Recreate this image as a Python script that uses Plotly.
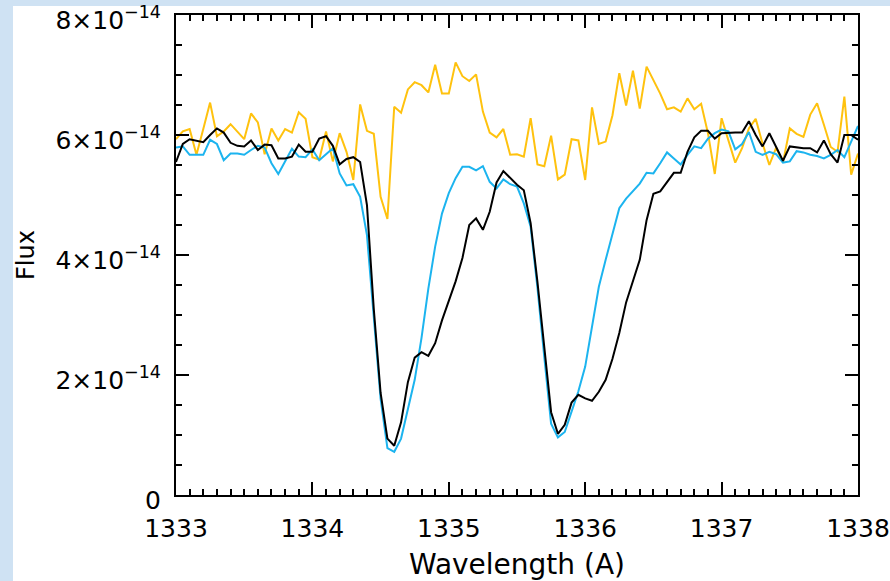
import numpy as np
import plotly.graph_objects as go

# wavelength grid (Angstrom), 0.05 A sampling
wavelength = np.round(1333.0 + 0.05 * np.arange(101), 2)

# flux values in units of 1e-14
flux_black = [5.55, 5.85, 5.93, 5.91, 5.88, 6.00, 6.11, 6.04, 5.87, 5.82,
              5.81, 5.91, 5.75, 5.84, 5.83, 5.61, 5.61, 5.64, 5.84, 5.72,
              5.72, 5.94, 5.98, 5.82, 5.51, 5.60, 5.63, 5.55, 4.83, 3.10,
              1.70, 0.94, 0.82, 1.21, 1.88, 2.29, 2.38, 2.32, 2.53, 2.91,
              3.22, 3.56, 3.95, 4.50, 4.61, 4.42, 4.72, 5.21, 5.40, 5.28,
              5.17, 5.08, 4.53, 3.55, 2.45, 1.38, 1.02, 1.17, 1.54, 1.67,
              1.61, 1.57, 1.72, 1.92, 2.27, 2.70, 3.21, 3.58, 3.92, 4.58,
              5.02, 5.06, 5.21, 5.37, 5.37, 5.72, 5.96, 6.07, 6.07, 5.94,
              6.03, 6.04, 6.04, 6.04, 6.23, 6.00, 5.81, 6.03, 5.81, 5.57,
              5.81, 5.79, 5.78, 5.78, 5.71, 5.91, 5.68, 5.54, 6.00, 6.00,
              5.92]

flux_cyan = [5.79, 5.81, 5.67, 5.67, 5.67, 5.92, 5.85, 5.58, 5.69, 5.69,
             5.67, 5.75, 5.82, 5.79, 5.53, 5.35, 5.56, 5.77, 5.64, 5.63,
             5.76, 5.58, 5.68, 5.78, 5.36, 5.16, 5.18, 4.97, 4.33, 2.95,
             1.60, 0.78, 0.72, 0.94, 1.42, 1.92, 2.62, 3.44, 4.14, 4.69,
             5.03, 5.28, 5.47, 5.47, 5.41, 5.48, 5.22, 5.11, 5.26, 5.18,
             5.14, 4.86, 4.47, 3.45, 2.30, 1.19, 0.96, 1.05, 1.39, 1.73,
             2.14, 2.80, 3.47, 3.92, 4.36, 4.78, 4.94, 5.07, 5.19, 5.37,
             5.36, 5.53, 5.71, 5.61, 5.51, 5.67, 5.81, 5.78, 5.94, 6.03,
             6.09, 6.06, 5.76, 5.85, 6.05, 5.72, 5.67, 5.72, 5.68, 5.54,
             5.56, 5.73, 5.71, 5.67, 5.65, 5.61, 5.67, 5.75, 5.63, 5.89,
             6.15]

flux_gold = [5.93, 6.06, 6.10, 5.67, 6.10, 6.54, 5.98, 6.06, 6.18, 6.06,
             5.93, 6.36, 6.21, 5.68, 6.11, 5.91, 6.10, 6.04, 6.38, 6.27,
             5.63, 5.59, 6.06, 5.56, 6.03, 5.72, 5.25, 6.51, 6.07, 6.02,
             4.97, 4.60, 6.47, 6.37, 6.76, 6.88, 6.83, 6.71, 7.17, 6.69,
             6.69, 7.21, 6.98, 6.90, 7.01, 6.39, 6.04, 5.96, 6.10, 5.67,
             5.68, 5.64, 6.28, 5.51, 5.48, 5.99, 5.26, 5.34, 5.93, 5.91,
             5.25, 6.46, 5.85, 5.89, 6.33, 7.03, 6.49, 7.07, 6.44, 7.14,
             6.92, 6.69, 6.43, 6.46, 6.39, 6.61, 6.43, 6.52, 6.03, 5.35,
             6.28, 5.89, 5.54, 5.78, 6.11, 6.27, 5.86, 5.50, 5.79, 5.54,
             6.11, 6.02, 5.97, 6.34, 6.53, 6.17, 5.80, 5.72, 6.64, 5.34,
             5.69]

scale = 1e-14
x_ticks = [1333, 1334, 1335, 1336, 1337, 1338]
y_tickvals = [0, 2e-14, 4e-14, 6e-14, 8e-14]
y_ticktext = ["0", "2×10<sup>−14</sup>", "4×10<sup>−14</sup>",
              "6×10<sup>−14</sup>", "8×10<sup>−14</sup>"]

fig = go.Figure()
for vals, col in [(flux_gold, "#ffc20e"), (flux_cyan, "#1cb4ef"), (flux_black, "#000000")]:
    fig.add_trace(go.Scatter(x=wavelength, y=np.array(vals) * scale, mode="lines",
                             line=dict(color=col, width=2), showlegend=False))

font_family = "DejaVu Sans"
fig.update_layout(
    width=890, height=581,
    margin=dict(l=176, r=32, t=15, b=86, autoexpand=False),
    paper_bgcolor="#cfe2f3",
    plot_bgcolor="white",
    font=dict(family=font_family, color="black"),
    shapes=[dict(type="rect", xref="paper", yref="paper",
                 x0=-0.239, x1=1.1, y0=-0.2, y1=1.019,
                 fillcolor="white", line=dict(width=0), layer="below")],
)
fig.update_xaxes(
    range=[1333, 1338], tickvals=x_ticks, ticktext=[str(t) for t in x_ticks],
    automargin=False,
    showgrid=False, zeroline=False, showline=True, linecolor="black", linewidth=2,
    mirror="ticks", ticks="inside", ticklen=13, tickwidth=1.5, tickcolor="black",
    minor=dict(dtick=0.1, ticks="inside", ticklen=6, tickwidth=1.5, tickcolor="black"),
    tickfont=dict(size=25, family=font_family),
    ticklabelstandoff=10,
    ticklabeloverflow="allow",
    title=dict(text="Wavelength (A)", font=dict(size=28, family=font_family), standoff=12),
)
fig.update_yaxes(
    range=[0, 8e-14], tickvals=y_tickvals, ticktext=y_ticktext,
    automargin=False,
    showgrid=False, zeroline=False, showline=True, linecolor="black", linewidth=2,
    mirror="ticks", ticks="inside", ticklen=13, tickwidth=1.5, tickcolor="black",
    minor=dict(dtick=0.5e-14, ticks="inside", ticklen=6, tickwidth=1.5, tickcolor="black"),
    tickfont=dict(size=25, family=font_family),
    ticklabelstandoff=8,
    ticklabelshift=5,
    ticklabeloverflow="allow",
    title=dict(text="Flux", font=dict(size=24, family=font_family), standoff=14),
)
fig.write_html("out.html")
